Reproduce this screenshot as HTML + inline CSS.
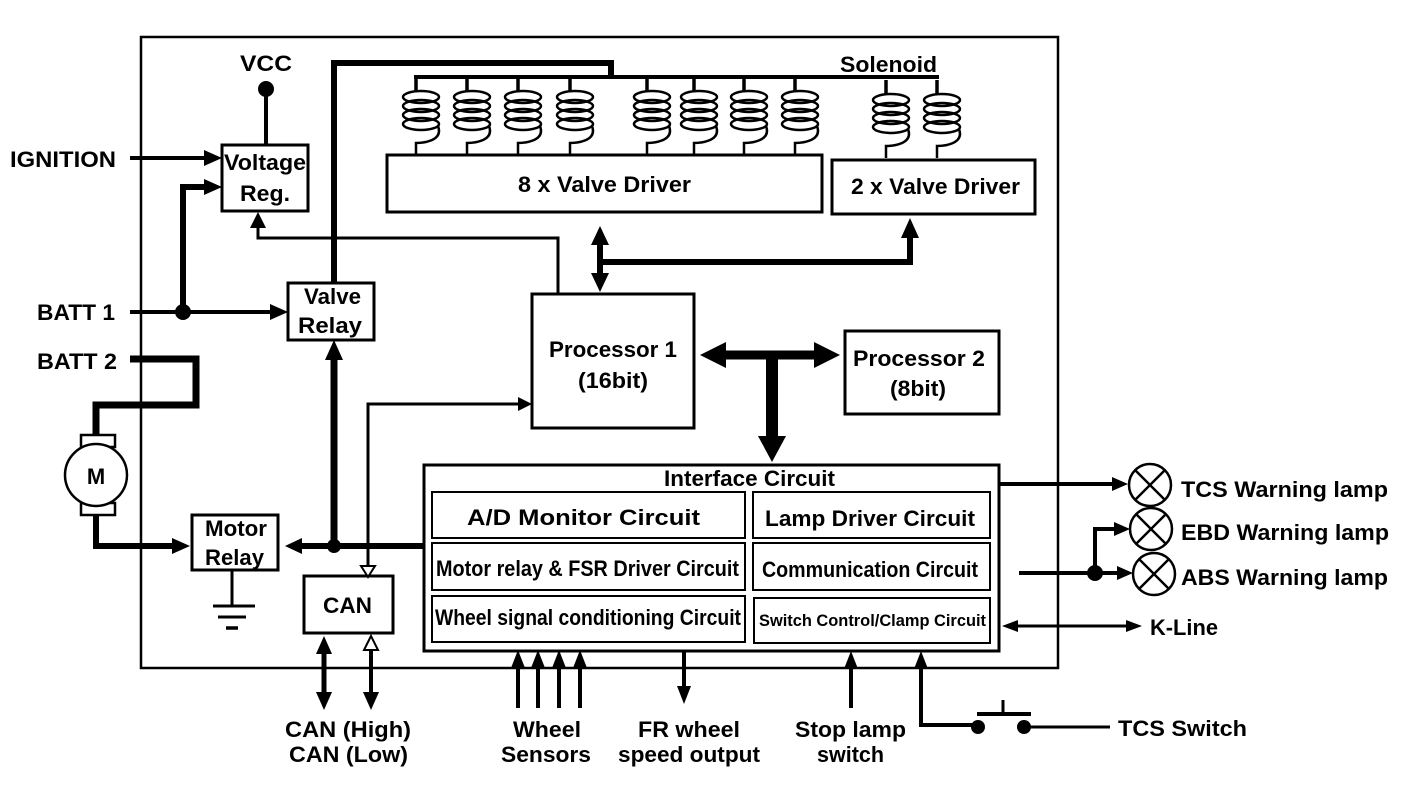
<!DOCTYPE html>
<html><head><meta charset="utf-8"><style>
html,body{margin:0;padding:0;background:#fff}
svg{display:block}
text{font-family:"Liberation Sans",Arial,sans-serif;font-weight:bold;fill:#000}
</style></head><body>
<svg width="1408" height="788" viewBox="0 0 1408 788" xmlns="http://www.w3.org/2000/svg">
<g fill="none" stroke="#000" stroke-width="3">
<rect x="141" y="37" width="917" height="631" stroke-width="2.5"/>
<rect x="222" y="145" width="86" height="66"/>
<rect x="288" y="283" width="86" height="57"/>
<rect x="387" y="155" width="435" height="57"/>
<rect x="832" y="160" width="203" height="54"/>
<rect x="532" y="294" width="162" height="134"/>
<rect x="845" y="331" width="154" height="83"/>
<rect x="424" y="465" width="575" height="186"/>
<rect x="432" y="492" width="313" height="46" stroke-width="2"/>
<rect x="753" y="492" width="237" height="46" stroke-width="2"/>
<rect x="432" y="543" width="313" height="47" stroke-width="2"/>
<rect x="753" y="543" width="237" height="47" stroke-width="2"/>
<rect x="432" y="596" width="313" height="46" stroke-width="2"/>
<rect x="754" y="598" width="236" height="45" stroke-width="2"/>
<rect x="192" y="515" width="86" height="55"/>
<rect x="304" y="576" width="89" height="57"/>
<line x1="266" y1="89" x2="266" y2="145" stroke-width="4"/>
<polyline points="558,294 558,238 258,238 258,222"/>
<polyline points="368,568 368,404 522,404"/>
<line x1="130" y1="158" x2="208" y2="158" stroke-width="4"/>
<line x1="130" y1="312" x2="276" y2="312" stroke-width="4"/>
<polyline points="183,312 183,187 208,187" stroke-width="6"/>
<polyline points="334,283 334,63 611,63 611,77" stroke-width="6"/>
<line x1="414" y1="77" x2="939" y2="77" stroke-width="4"/>
<line x1="334" y1="546" x2="334" y2="356" stroke-width="7"/>
<line x1="424" y1="546" x2="298" y2="546" stroke-width="6"/>
<polyline points="130,359 196,359 196,405 96,405 96,435" stroke-width="7"/>
<polyline points="96,515 96,546 178,546" stroke-width="6"/>
<line x1="232" y1="570" x2="232" y2="606"/>
<line x1="213" y1="606" x2="255" y2="606"/>
<line x1="218" y1="617" x2="246" y2="617"/>
<line x1="226" y1="628" x2="238" y2="628" stroke-width="3.5"/>
<rect x="81" y="435" width="34" height="12" stroke-width="2.5"/>
<rect x="81" y="503" width="34" height="12" stroke-width="2.5"/>
<circle cx="96" cy="475" r="31" fill="#fff" stroke-width="2.5"/>
<line x1="600" y1="240" x2="600" y2="280" stroke-width="6"/>
<polyline points="600,262 910,262 910,236" stroke-width="6"/>
<line x1="718" y1="355" x2="820" y2="355" stroke-width="9"/>
<line x1="772" y1="355" x2="772" y2="440" stroke-width="12"/>
<line x1="324" y1="650" x2="324" y2="694" stroke-width="5"/>
<line x1="371" y1="650" x2="371" y2="694" stroke-width="4"/>
<line x1="518" y1="668" x2="518" y2="708" stroke-width="4"/>
<line x1="538" y1="668" x2="538" y2="708" stroke-width="4"/>
<line x1="559" y1="668" x2="559" y2="708" stroke-width="4"/>
<line x1="580" y1="668" x2="580" y2="708" stroke-width="4"/>
<line x1="684" y1="651" x2="684" y2="690" stroke-width="4"/>
<line x1="851" y1="668" x2="851" y2="708" stroke-width="4"/>
<polyline points="921,668 921,725 978,725" stroke-width="4"/>
<line x1="1024" y1="727" x2="1110" y2="727"/>
<line x1="977" y1="714" x2="1031" y2="714" stroke-width="4"/>
<line x1="1003" y1="700" x2="1003" y2="714" stroke-width="3"/>
<line x1="1000" y1="484" x2="1116" y2="484" stroke-width="4"/>
<line x1="1019" y1="573" x2="1118" y2="573" stroke-width="4"/>
<polyline points="1095,573 1095,529 1118,529" stroke-width="4"/>
<line x1="1016" y1="626" x2="1130" y2="626" stroke-width="3"/>
<g stroke-width="2.5">
<circle cx="1150" cy="485" r="21"/><line x1="1135" y1="470" x2="1165" y2="500"/><line x1="1165" y1="470" x2="1135" y2="500"/>
<circle cx="1151" cy="529" r="21"/><line x1="1136" y1="514" x2="1166" y2="544"/><line x1="1166" y1="514" x2="1136" y2="544"/>
<circle cx="1154" cy="574" r="21"/><line x1="1139" y1="559" x2="1169" y2="589"/><line x1="1169" y1="559" x2="1139" y2="589"/>
</g>
</g>
<g fill="none" stroke="#000" stroke-width="2.5">
<g id="coil">
<line x1="416" y1="77" x2="416" y2="91" stroke-width="3.5"/>
<ellipse cx="421" cy="97" rx="18" ry="6"/>
<ellipse cx="421" cy="106" rx="18" ry="6"/>
<ellipse cx="421" cy="115" rx="18" ry="6"/>
<ellipse cx="421" cy="124" rx="18" ry="6"/>
<path d="M438,126 C444,142 420,143 416,143 L416,155"/>
</g>
<use href="#coil" x="51"/>
<use href="#coil" x="102"/>
<use href="#coil" x="154"/>
<use href="#coil" x="231"/>
<use href="#coil" x="278"/>
<use href="#coil" x="328"/>
<use href="#coil" x="379"/>
<use href="#coil" x="470" y="3"/>
<use href="#coil" x="521" y="3"/>
</g>
<g fill="#000" stroke="none">
<circle cx="266" cy="89" r="8"/>
<circle cx="183" cy="312" r="8"/>
<circle cx="334" cy="546" r="7"/>
<circle cx="1095" cy="573" r="8"/>
<circle cx="978" cy="727" r="7"/>
<circle cx="1024" cy="727" r="7"/>
<polygon points="222,158 204,150 204,166"/>
<polygon points="222,187 204,179 204,195"/>
<polygon points="288,312 270,304 270,320"/>
<polygon points="258,212 250,228 266,228"/>
<polygon points="532,404 518,397 518,411"/>
<polygon points="334,340 325,360 343,360"/>
<polygon points="285,546 302,538 302,554"/>
<polygon points="190,546 172,538 172,554"/>
<polygon points="600,226 591,245 609,245"/>
<polygon points="600,292 591,273 609,273"/>
<polygon points="910,218 901,238 919,238"/>
<polygon points="700,355 726,342 726,368"/>
<polygon points="840,355 814,342 814,368"/>
<polygon points="772,462 758,436 786,436"/>
<polygon points="324,636 316,654 332,654"/>
<polygon points="324,710 316,692 332,692"/>
<polygon points="371,710 363,692 379,692"/>
<polygon points="518,650 511,668 525,668"/>
<polygon points="538,650 531,668 545,668"/>
<polygon points="559,650 552,668 566,668"/>
<polygon points="580,650 573,668 587,668"/>
<polygon points="684,704 677,686 691,686"/>
<polygon points="851,651 844,669 858,669"/>
<polygon points="921,651 914,669 928,669"/>
<polygon points="1128,484 1112,477 1112,491"/>
<polygon points="1130,529 1114,522 1114,536"/>
<polygon points="1133,573 1117,566 1117,580"/>
<polygon points="1002,626 1018,620 1018,632"/>
<polygon points="1142,626 1126,620 1126,632"/>
</g>
<g fill="#fff" stroke="#000" stroke-width="2">
<polygon points="368,577 361,566 375,566"/>
<polygon points="371,636 364,650 378,650"/>
</g>
<g font-size="22">
<text x="240" y="71" textLength="52" lengthAdjust="spacingAndGlyphs">VCC</text>
<text x="10" y="167" textLength="106" lengthAdjust="spacingAndGlyphs">IGNITION</text>
<text x="37" y="320" textLength="78" lengthAdjust="spacingAndGlyphs">BATT 1</text>
<text x="37" y="369" textLength="80" lengthAdjust="spacingAndGlyphs">BATT 2</text>
<text x="840" y="72" textLength="97" lengthAdjust="spacingAndGlyphs">Solenoid</text>
<text x="224" y="170" textLength="82" lengthAdjust="spacingAndGlyphs">Voltage</text>
<text x="240" y="201" textLength="50" lengthAdjust="spacingAndGlyphs">Reg.</text>
<text x="304" y="304" textLength="57" lengthAdjust="spacingAndGlyphs">Valve</text>
<text x="298" y="333" textLength="64" lengthAdjust="spacingAndGlyphs">Relay</text>
<text x="518" y="192" textLength="173" lengthAdjust="spacingAndGlyphs">8 x Valve Driver</text>
<text x="851" y="194" textLength="169" lengthAdjust="spacingAndGlyphs">2 x Valve Driver</text>
<text x="549" y="357" textLength="128" lengthAdjust="spacingAndGlyphs">Processor 1</text>
<text x="578" y="388" textLength="70" lengthAdjust="spacingAndGlyphs">(16bit)</text>
<text x="853" y="366" textLength="132" lengthAdjust="spacingAndGlyphs">Processor 2</text>
<text x="890" y="396" textLength="56" lengthAdjust="spacingAndGlyphs">(8bit)</text>
<text x="664" y="486" textLength="171" lengthAdjust="spacingAndGlyphs">Interface Circuit</text>
<text x="467" y="525" textLength="233" lengthAdjust="spacingAndGlyphs">A/D Monitor Circuit</text>
<text x="765" y="526" textLength="210" lengthAdjust="spacingAndGlyphs">Lamp Driver Circuit</text>
<text x="436" y="576" textLength="303" lengthAdjust="spacingAndGlyphs">Motor relay &amp; FSR Driver Circuit</text>
<text x="762" y="577" textLength="216" lengthAdjust="spacingAndGlyphs">Communication Circuit</text>
<text x="435" y="625" textLength="306" lengthAdjust="spacingAndGlyphs">Wheel signal conditioning Circuit</text>
<text x="759" y="626" font-size="17" textLength="227" lengthAdjust="spacingAndGlyphs">Switch Control/Clamp Circuit</text>
<text x="205" y="536" textLength="62" lengthAdjust="spacingAndGlyphs">Motor</text>
<text x="205" y="565" textLength="59" lengthAdjust="spacingAndGlyphs">Relay</text>
<text x="323" y="613" textLength="49" lengthAdjust="spacingAndGlyphs">CAN</text>
<text x="96" y="484" text-anchor="middle" font-weight="normal">M</text>
<text x="285" y="737" textLength="126" lengthAdjust="spacingAndGlyphs">CAN (High)</text>
<text x="289" y="762" textLength="119" lengthAdjust="spacingAndGlyphs">CAN (Low)</text>
<text x="513" y="737" textLength="68" lengthAdjust="spacingAndGlyphs">Wheel</text>
<text x="501" y="762" textLength="90" lengthAdjust="spacingAndGlyphs">Sensors</text>
<text x="638" y="737" textLength="102" lengthAdjust="spacingAndGlyphs">FR wheel</text>
<text x="618" y="762" textLength="142" lengthAdjust="spacingAndGlyphs">speed output</text>
<text x="795" y="737" textLength="111" lengthAdjust="spacingAndGlyphs">Stop lamp</text>
<text x="817" y="762" textLength="67" lengthAdjust="spacingAndGlyphs">switch</text>
<text x="1118" y="736" textLength="129" lengthAdjust="spacingAndGlyphs">TCS Switch</text>
<text x="1150" y="635" textLength="68" lengthAdjust="spacingAndGlyphs">K-Line</text>
<text x="1181" y="497" textLength="207" lengthAdjust="spacingAndGlyphs">TCS Warning lamp</text>
<text x="1181" y="540" textLength="208" lengthAdjust="spacingAndGlyphs">EBD Warning lamp</text>
<text x="1181" y="585" textLength="207" lengthAdjust="spacingAndGlyphs">ABS Warning lamp</text>
</g>
</svg>
</body></html>
